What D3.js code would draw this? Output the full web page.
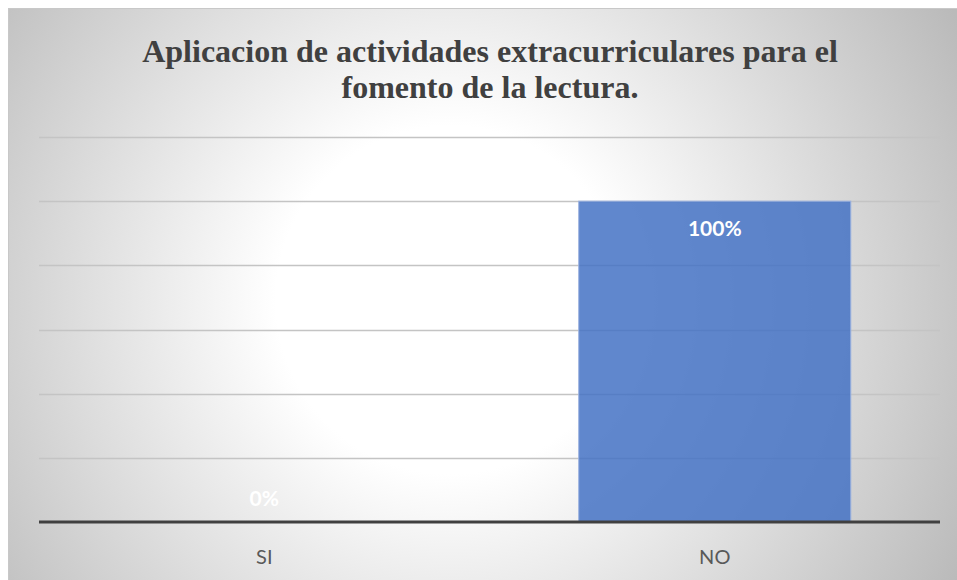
<!DOCTYPE html>
<html><head><meta charset="utf-8">
<script src="https://cdn.jsdelivr.net/npm/d3@7"></script>
<style>html,body{margin:0;padding:0;background:#fff;}svg{display:block;}
.title{font-family:"Liberation Serif","Times New Roman",serif;font-weight:bold;}
.lbl{font-family:Lato,"Open Sans",sans-serif;}
</style>
</head><body>
<svg id="c" width="957" height="580"></svg>
<script>
const categories = ["SI", "NO"];
const values = [0, 1.0];
const valueLabels = ["0%", "100%"];
const yTicks = [0, 0.2, 0.4, 0.6, 0.8, 1.0, 1.2];
const titleLines = ["Aplicacion de actividades extracurriculares para el", "fomento de la lectura."];

const svg = d3.select("#c");
const defs = svg.append("defs");
const g = defs.append("radialGradient").attr("id","bg")
  .attr("gradientUnits","userSpaceOnUse").attr("cx",450).attr("cy",300).attr("r",580);
g.append("stop").attr("offset","0").attr("stop-color","#ffffff");
g.append("stop").attr("offset","0.3").attr("stop-color","#ffffff");
g.append("stop").attr("offset","1").attr("stop-color","#bababa");

svg.append("rect").attr("x",8.5).attr("y",8.5).attr("width",960).attr("height",580)
  .attr("fill","url(#bg)").attr("stroke","#c8c8c8").attr("stroke-width",1);

const x = d3.scaleBand().domain(categories).range([39, 940]).paddingInner(0.396).paddingOuter(0.198);
const y = d3.scaleLinear().domain([0, 1.2]).range([522, 137]);

svg.append("g").selectAll("line").data(yTicks.filter(d => d > 0)).join("line")
  .attr("x1",39).attr("x2",940)
  .attr("y1",d => Math.round(y(d))+0.5).attr("y2",d => Math.round(y(d))+0.5)
  .attr("stroke","#c4c4c4").attr("stroke-width",1.3);

svg.append("g").selectAll("rect").data(categories).join("rect")
  .attr("x", d => x(d)).attr("width", x.bandwidth())
  .attr("y", (d,i) => y(values[i])).attr("height", (d,i) => y(0) - y(values[i]))
  .attr("fill","#4472c4").attr("fill-opacity",0.85)
  .attr("stroke","#9db3e0").attr("stroke-width",1);

const xAxis = d3.axisBottom(x).tickSize(0).tickPadding(0);
const ax = svg.append("g").attr("transform",`translate(0,${y(0)})`).call(xAxis);
ax.attr("font-family",null).attr("font-size",null);
ax.select(".domain").attr("stroke","#404040").attr("stroke-width",3).attr("d","M39,0H940");
ax.selectAll("text").attr("dy",null).attr("y",42).attr("class","lbl")
  .style("font-size","20px").attr("fill","#595959");

svg.append("g").selectAll("text").data(categories).join("text")
  .attr("class","lbl")
  .attr("x", d => x(d) + x.bandwidth()/2)
  .attr("y", (d,i) => values[i] > 0 ? y(values[i]) + 35 : y(0) - 16)
  .attr("text-anchor","middle").style("font-weight","bold")
  .style("font-size","21px").attr("fill","#ffffff")
  .text((d,i) => valueLabels[i]);

const t = svg.append("g").selectAll("text").data(titleLines).join("text")
  .attr("class","title")
  .attr("x",490).attr("y",(d,i) => 62 + i*36)
  .attr("text-anchor","middle")
  .style("font-size","29px").attr("fill","#404040")
  .text(d => d);
const w = t.node().getComputedTextLength();
const fs = 29 * 696 / w;
t.style("font-size", fs + "px");
</script>
</body></html>
